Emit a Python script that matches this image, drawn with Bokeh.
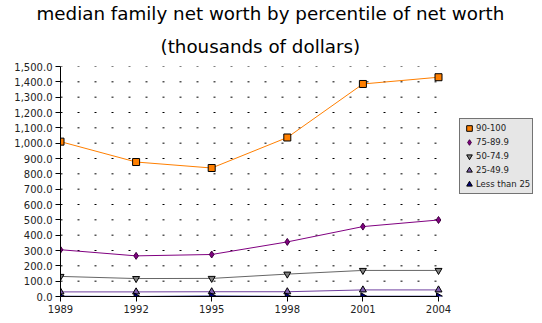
import math
from bokeh.plotting import figure
from bokeh.models import (Range1d, FixedTicker, NumeralTickFormatter, Legend, LegendItem, Title)
from bokeh.embed import file_html
from bokeh.resources import INLINE

years = [1989, 1992, 1995, 1998, 2001, 2004]
p90_100 = [1010, 877, 838, 1037, 1386, 1430]
p75_90 = [305, 265, 274, 356, 456, 499]
p50_75 = [131, 117, 118, 146, 170, 170]
p25_50 = [30, 30, 31, 31, 43, 43]
p_lt25 = [1.5, 0.0, 3.0, 0.5, 1.5, 1.5]
series_names = ["90-100", "75-89.9", "50-74.9", "25-49.9", "Less than 25"]
y_ticks = list(range(0, 1501, 100))
title_lines = ["median family net worth by percentile of net worth", "(thousands of dollars)"]

# plot area spans 378 px for the data; frame extends to the right to hold the legend
data_px, frame_px = 378, 477
x_end = years[-1] + (years[-1] - years[0]) * (frame_px - data_px) / data_px

p = figure(width=542, height=323, output_backend="svg", toolbar_location=None,
           x_range=Range1d(years[0], x_end), y_range=Range1d(0, 1500),
           min_border_left=60, min_border_right=542 - 60 - frame_px, min_border_top=0,
           min_border_bottom=27)
p.title.visible = False
p.outline_line_color = None
p.background_fill_color = "white"

t2 = Title(text=title_lines[1], align="left", offset=100, text_font="DejaVu Sans",
           text_font_size="18.3px", text_font_style="normal", text_color="#000000", standoff=20)
t1 = Title(text=title_lines[0], align="left", offset=-24, text_font="DejaVu Sans",
           text_font_size="18.3px", text_font_style="normal", text_color="#000000", standoff=0)
p.add_layout(t2, "above")
p.add_layout(t1, "above")

p.xaxis.ticker = FixedTicker(ticks=years)
p.xaxis.bounds = (years[0], years[-1])
p.yaxis.ticker = FixedTicker(ticks=y_ticks)
p.yaxis.formatter = NumeralTickFormatter(format="0,0.0")
for ax in (p.xaxis, p.yaxis):
    ax.major_label_text_font = "DejaVu Sans"
    ax.major_label_text_font_size = "10px"
    ax.major_label_text_color = "#222222"
    ax.axis_line_color = "black"
    ax.major_tick_line_color = "black"
    ax.minor_tick_line_color = None
    ax.major_tick_in = 0
    ax.major_tick_out = 5
    ax.major_label_standoff = 3
p.xgrid.grid_line_color = None
p.ygrid.grid_line_color = None

# dotted horizontal gridlines limited to the data span
p.segment(x0=[years[0]] * len(y_ticks), x1=[years[-1]] * len(y_ticks), y0=y_ticks, y1=y_ticks,
          line_color="black", line_width=1, line_dash="2 15")

specs = [
    (p90_100, "#ff7f00", "square", "#ff7f00", "black", 7, 0),
    (p75_90, "#800080", "diamond", "#800080", "#400040", 7, 0),
    (p50_75, "#666666", "inverted_triangle", "#808080", "black", 7, 0),
    (p25_50, "#7040a0", "triangle", "#8060b0", "black", 7, 0),
    (p_lt25, "#000080", "triangle", "#000080", "black", 7, -math.pi / 2),
]
items = []
for name, (vals, lc, mk, fc, oc, sz, ang) in zip(series_names, specs):
    p.line(years, vals, line_color=lc, line_width=1)
    r2 = p.scatter(years, vals, marker=mk, size=sz, fill_color=fc, line_color=oc,
                   line_width=1, angle=ang)
    items.append(LegendItem(label=name, renderers=[r2]))

legend = Legend(items=items, location=(399, 102))
legend.label_text_font = "DejaVu Sans"
legend.label_text_font_size = "8.5px"
legend.label_text_color = "#222222"
legend.glyph_width = 14
legend.glyph_height = 14
legend.label_height = 10
legend.spacing = 0
legend.padding = 2
legend.margin = 0
legend.label_standoff = 0
legend.border_line_color = "black"
legend.border_line_width = 1
legend.background_fill_color = "#e6e6e6"
legend.background_fill_alpha = 1.0
p.add_layout(legend, "center")

open("out.html", "w").write(file_html(p, INLINE))
